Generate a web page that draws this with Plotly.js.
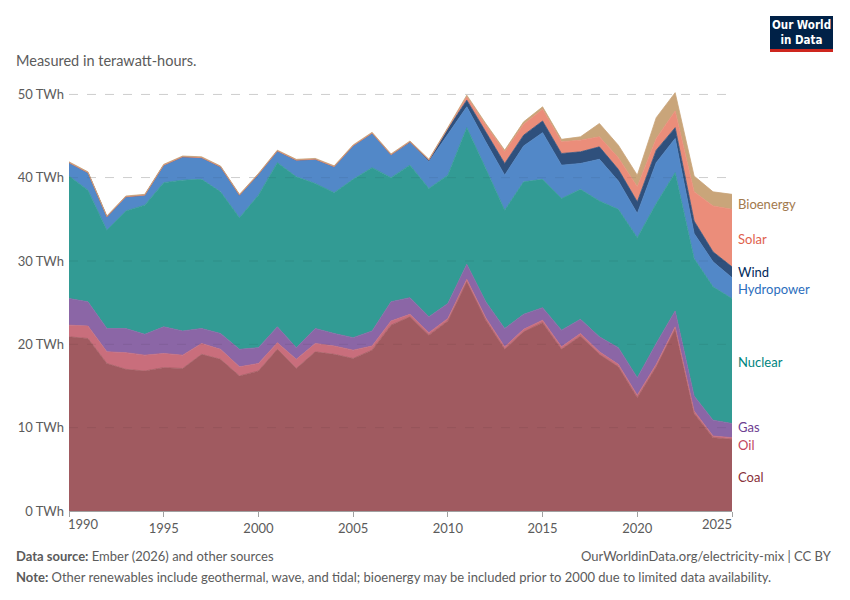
<html>
<head>
<meta charset="UTF-8">
<script src="https://cdn.plot.ly/plotly-3.0.1.min.js"></script>
<style>
  body { margin: 0; background: #fff; }
  #chart { width: 850px; height: 600px; }
</style>
</head>
<body>
<div id="chart"></div>
<script>
// years 1990..2025
const years = [];
for (let y = 1990; y <= 2025; y++) years.push(y);

const coal = [20.9, 20.7, 17.7, 17.0, 16.8, 17.2, 17.1, 18.8, 18.2, 16.2,
              16.8, 19.4, 17.1, 19.1, 18.8, 18.3, 19.3, 22.3, 23.3, 21.1,
              22.8, 27.5, 22.9, 19.4, 21.5, 22.6, 19.4, 21.0, 18.8, 17.3,
              13.6, 17.3, 21.8, 11.7, 8.8, 8.6];
const oil = [1.4, 1.5, 1.4, 2.0, 1.9, 1.7, 1.6, 1.3, 1.2, 1.1,
             0.9, 0.8, 1.1, 1.0, 1.0, 1.0, 0.5, 0.5, 0.3, 0.3,
             0.3, 0.3, 0.3, 0.3, 0.3, 0.3, 0.3, 0.3, 0.3, 0.3,
             0.3, 0.3, 0.3, 0.3, 0.2, 0.2];
const gas = [3.2, 2.9, 2.8, 2.9, 2.5, 3.2, 2.9, 1.8, 1.9, 2.1,
             1.9, 1.9, 1.4, 1.8, 1.5, 1.5, 1.8, 2.3, 2.0, 1.9,
             1.8, 1.8, 1.9, 2.2, 1.8, 1.5, 2.0, 1.7, 1.8, 2.0,
             2.1, 2.5, 1.9, 1.8, 1.9, 1.7];
const nuclear = [14.7, 13.4, 11.8, 14.1, 15.5, 17.3, 18.1, 17.9, 17.0, 15.8,
                 18.3, 19.7, 20.5, 17.4, 16.9, 19.0, 19.6, 14.9, 15.9, 15.4,
                 15.4, 16.4, 16.0, 14.2, 15.9, 15.4, 15.8, 15.6, 16.3, 16.6,
                 16.8, 16.8, 16.6, 16.5, 16.0, 15.0];
const hydro = [1.6, 2.1, 1.6, 1.7, 1.2, 2.1, 2.8, 2.6, 3.0, 2.7,
               2.5, 1.4, 2.0, 2.9, 3.1, 4.0, 4.1, 2.7, 2.7, 3.2,
               4.9, 2.5, 3.2, 4.2, 4.3, 5.6, 4.0, 3.1, 5.0, 3.4,
               2.9, 4.9, 4.1, 3.0, 3.0, 2.5];
const wind = [0, 0, 0, 0, 0, 0, 0, 0, 0, 0,
              0, 0, 0, 0.01, 0.02, 0.03, 0.04, 0.05, 0.1, 0.2,
              0.7, 0.8, 1.2, 1.4, 1.3, 1.4, 1.4, 1.4, 1.5, 1.4,
              1.4, 1.5, 1.3, 1.5, 1.2, 1.3];
const solar = [0, 0, 0, 0, 0, 0, 0, 0, 0, 0,
               0, 0, 0, 0, 0, 0, 0, 0, 0, 0.01,
               0.02, 0.4, 0.8, 1.4, 1.3, 1.4, 1.4, 1.4, 1.2, 1.4,
               1.8, 1.4, 2.0, 3.5, 5.5, 6.9];
const bioenergy = [0.1, 0.1, 0.1, 0.1, 0.1, 0.1, 0.1, 0.1, 0.1, 0.1,
                   0.1, 0.1, 0.1, 0.1, 0.1, 0.1, 0.1, 0.1, 0.1, 0.1,
                   0.1, 0.2, 0.2, 0.2, 0.3, 0.3, 0.3, 0.4, 1.6, 1.5,
                   1.4, 2.5, 2.2, 1.9, 1.7, 1.8];

const names = ['Coal', 'Oil', 'Gas', 'Nuclear', 'Hydropower', 'Wind', 'Solar', 'Bioenergy'];
const values = [coal, oil, gas, nuclear, hydro, wind, solar, bioenergy];
const fills = ['#a05a60', '#c96e7c', '#8b66a6', '#329b94', '#5288c8', '#2f507c', '#eb8d7a', '#c9a57a'];
const labelColors = ['#883039', '#c2455e', '#6d3e91', '#00847e', '#2c6ebd', '#00295b', '#e0614d', '#a2794d'];
const labelY = [4.1, 7.9, 10.1, 17.9, 26.6, 28.7, 32.7, 36.9];

const xTicks = [1990, 1995, 2000, 2005, 2010, 2015, 2020, 2025];
const yTicks = [0, 10, 20, 30, 40, 50];

// plot area in pixels
const L = 69, R = 732, T = 86, B = 511;
const px = x => (x - L) / (R - L);
const py = y => (B - y) / (B - T);

const data = names.map((n, i) => ({
  x: years,
  y: values[i],
  name: n,
  type: 'scatter',
  mode: 'lines',
  stackgroup: 'one',
  fillcolor: fills[i],
  line: { color: fills[i], width: 0.8 },
  hoverinfo: 'skip'
}));

const font = 'Lato, "Open Sans", sans-serif';
const grey = '#5b5b5b';

const annotations = [];
names.forEach((n, i) => {
  annotations.push({
    xref: 'paper', yref: 'y', x: 1, y: labelY[i], xshift: 4,
    xanchor: 'left', yanchor: 'middle', showarrow: false,
    text: n, font: { family: font, size: 13, color: labelColors[i] }
  });
});
// first and last x labels sit flush with the plot edges
annotations.push({
  xref: 'x', yref: 'paper', x: 1990, y: py(524), xanchor: 'left', yanchor: 'middle', xshift: -3,
  showarrow: false, text: '1990', font: { family: font, size: 13, color: grey }
});
annotations.push({
  xref: 'x', yref: 'paper', x: 2025, y: py(524), xanchor: 'right', yanchor: 'middle', xshift: 2,
  showarrow: false, text: '2025', font: { family: font, size: 13, color: grey }
});
annotations.push({
  xref: 'paper', yref: 'paper', x: px(14), y: py(61), xanchor: 'left', yanchor: 'middle',
  showarrow: false, text: 'Measured in terawatt-hours.', font: { family: font, size: 14.5, color: grey }
});
annotations.push({
  xref: 'paper', yref: 'paper', x: px(14), y: py(556), xanchor: 'left', yanchor: 'middle',
  showarrow: false, text: '<b>Data source:</b> Ember (2026) and other sources',
  font: { family: font, size: 13, color: grey }
});
annotations.push({
  xref: 'paper', yref: 'paper', x: px(834), y: py(556), xanchor: 'right', yanchor: 'middle',
  showarrow: false, text: 'OurWorldinData.org/electricity-mix | CC BY',
  font: { family: font, size: 13, color: grey }
});
annotations.push({
  xref: 'paper', yref: 'paper', x: px(14), y: py(577), xanchor: 'left', yanchor: 'middle',
  showarrow: false,
  text: '<b>Note:</b> Other renewables include geothermal, wave, and tidal; bioenergy may be included prior to 2000 due to limited data availability.',
  font: { family: font, size: 13, color: grey }
});
// logo text
annotations.push({
  xref: 'paper', yref: 'paper', x: px(801.5), y: py(32), xanchor: 'center', yanchor: 'middle',
  showarrow: false, text: '<b>Our World<br>in Data</b>',
  font: { family: '"DejaVu Sans Condensed", "Liberation Sans Narrow", Lato, sans-serif', size: 11.5, color: '#fff' }
});

// faint dashed gridlines also show through the areas
const shapes = yTicks.filter(v => v > 0).map(v => ({
  type: 'line', xref: 'paper', yref: 'y', x0: 0, x1: 1, y0: v, y1: v, layer: 'above',
  line: { color: 'rgba(0,0,0,0.07)', width: 1, dash: 'dash' }
}));
shapes.push(
  { type: 'rect', xref: 'paper', yref: 'paper', x0: px(770), x1: px(833), y0: py(49), y1: py(16),
    fillcolor: '#002147', line: { width: 0 } },
  { type: 'rect', xref: 'paper', yref: 'paper', x0: px(770), x1: px(833), y0: py(52), y1: py(49),
    fillcolor: '#ce261e', line: { width: 0 } }
);

const layout = {
  width: 850, height: 600,
  margin: { l: L, r: 850 - R, t: T, b: 600 - B },
  paper_bgcolor: '#fff', plot_bgcolor: '#fff',
  showlegend: false,
  font: { family: font, color: grey },
  xaxis: {
    range: [1990, 2025],
    tickvals: xTicks,
    ticktext: xTicks.map((t, i) => (i === 0 || i === xTicks.length - 1) ? '' : String(t)),
    ticks: 'outside', ticklen: 5, tickcolor: '#a0a0a0',
    showgrid: false, zeroline: false,
    showline: true, linecolor: '#a0a0a0', linewidth: 1,
    tickfont: { family: font, size: 13, color: grey }
  },
  yaxis: {
    range: [0, 51],
    tickvals: yTicks,
    ticktext: yTicks.map(v => v + ' TWh'),
    showgrid: true, gridcolor: '#dddddd', griddash: 'dash', gridwidth: 1,
    zeroline: false, showline: false, ticks: '',
    ticklabelstandoff: 4,
    tickfont: { family: font, size: 13, color: grey }
  },
  shapes: shapes,
  annotations: annotations
};

Plotly.newPlot('chart', data, layout, { staticPlot: true, displayModeBar: false });
</script>
</body>
</html>
